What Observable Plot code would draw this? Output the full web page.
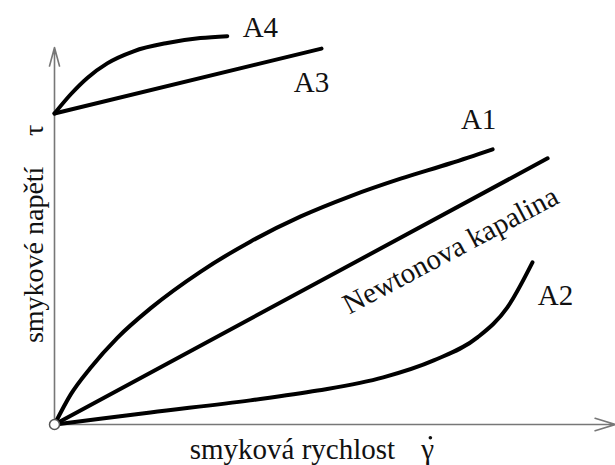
<!DOCTYPE html>
<html>
<head>
<meta charset="utf-8">
<script src="https://cdn.jsdelivr.net/npm/d3@7"></script>
<script src="https://cdn.jsdelivr.net/npm/@observablehq/plot@0.6"></script>
<style>
  html, body { margin: 0; padding: 0; background: #fff; }
</style>
</head>
<body>
<div id="chart"></div>
<script>
// Curve values (shear rate x, shear stress y)
const newtonX = [0, 8.79];
const newtonY = [0, 7.06];
const a1X = [0, 0.29, 0.64, 1.12, 1.71, 2.60, 3.49, 4.39, 5.28, 6.17, 7.06, 7.81];
const a1Y = [0, 0.80, 1.50, 2.30, 3.08, 4.05, 4.85, 5.52, 6.06, 6.52, 6.93, 7.30];
const a2X = [0, 0.85, 1.71, 3.49, 4.69, 5.86, 6.76, 7.54, 8.07, 8.52];
const a2Y = [0, 0.16, 0.32, 0.64, 0.90, 1.25, 1.70, 2.31, 3.10, 4.30];
const a3X = [0, 4.76];
const a3Y = [8.25, 9.97];
const a4X = [0, 0.29, 0.59, 0.94, 1.41, 2.01, 2.60, 3.08];
const a4Y = [8.25, 8.76, 9.20, 9.58, 9.90, 10.12, 10.25, 10.30];

// Curve labels and where they sit (data units)
const labelText = ["A4", "A3", "A1", "A2"];
const labelX = [3.67, 4.58, 7.56, 8.93];
const labelY = [10.53, 9.07, 8.09, 3.42];
const newtonLabel = "Newtonova kapalina";
const newtonLabelX = 7.06;
const newtonLabelY = 4.62;

// Axis titles
const xTitle = "smyková rychlost";
const xSymbol = "γ";
const yTitle = "smykové napětí";
const ySymbol = "τ";

const toPts = (xs, ys) => xs.map((x, i) => ({x, y: ys[i]}));
const curves = [
  toPts(newtonX, newtonY),
  toPts(a1X, a1Y),
  toPts(a2X, a2Y),
  toPts(a3X, a3Y),
  toPts(a4X, a4Y)
];

const labels = labelText.map((t, i) => ({t, x: labelX[i], y: labelY[i]}));
const font = 29;
const serif = "Liberation Serif, Times New Roman, serif";

const chart = Plot.plot({
  width: 615,
  height: 465,
  marginLeft: 54,
  marginRight: 0,
  marginTop: 47,
  marginBottom: 41,
  x: {domain: [0, 10], axis: null},
  y: {domain: [0, 10], axis: null},
  style: {fontFamily: serif, background: "#fff", color: "#000", overflow: "visible"},
  marks: [
    // axes with arrow heads
    Plot.arrow([{x1: 0, y1: 0, x2: 10, y2: 0}], {x1: "x1", y1: "y1", x2: "x2", y2: "y2", stroke: "#777", strokeWidth: 1.6, headLength: 20, headAngle: 34}),
    Plot.arrow([{x1: 0, y1: 0, x2: 0, y2: 10}], {x1: "x1", y1: "y1", x2: "x2", y2: "y2", stroke: "#777", strokeWidth: 1.6, headLength: 18, headAngle: 30}),
    // curves
    ...curves.map(c => Plot.line(c, {x: "x", y: "y", stroke: "#000", strokeWidth: 4, curve: "monotone-x"})),
    // origin circle
    Plot.dot([{x: 0, y: 0}], {x: "x", y: "y", r: 5, fill: "#fff", stroke: "#555", strokeWidth: 1.5}),
    // curve labels
    Plot.text(labels, {x: "x", y: "y", text: "t", fontSize: font, fontFamily: serif, fill: "#111"}),
    Plot.text([{x: newtonLabelX, y: newtonLabelY}], {x: "x", y: "y", text: () => newtonLabel, rotate: -28, fontSize: font, fontFamily: serif, fill: "#111"}),
    // axis titles
    Plot.text([{x: 4.24, y: -0.66}], {x: "x", y: "y", text: () => xTitle, fontSize: font, fontFamily: serif, fill: "#111"}),
    Plot.text([{x: 6.65, y: -0.66}], {x: "x", y: "y", text: () => xSymbol, fontSize: font, fontFamily: serif, fill: "#111"}),
    Plot.dot([{x: 6.70, y: -0.35}], {x: "x", y: "y", r: 1.8, fill: "#111", stroke: null}),
    Plot.text([{x: -0.36, y: 4.50}], {x: "x", y: "y", text: () => yTitle, rotate: -90, fontSize: 28, fontFamily: serif, fill: "#111"}),
    Plot.text([{x: -0.36, y: 7.80}], {x: "x", y: "y", text: () => ySymbol, rotate: -90, fontSize: 28, fontFamily: serif, fill: "#111"})
  ]
});
document.getElementById("chart").appendChild(chart);
</script>
</body>
</html>
